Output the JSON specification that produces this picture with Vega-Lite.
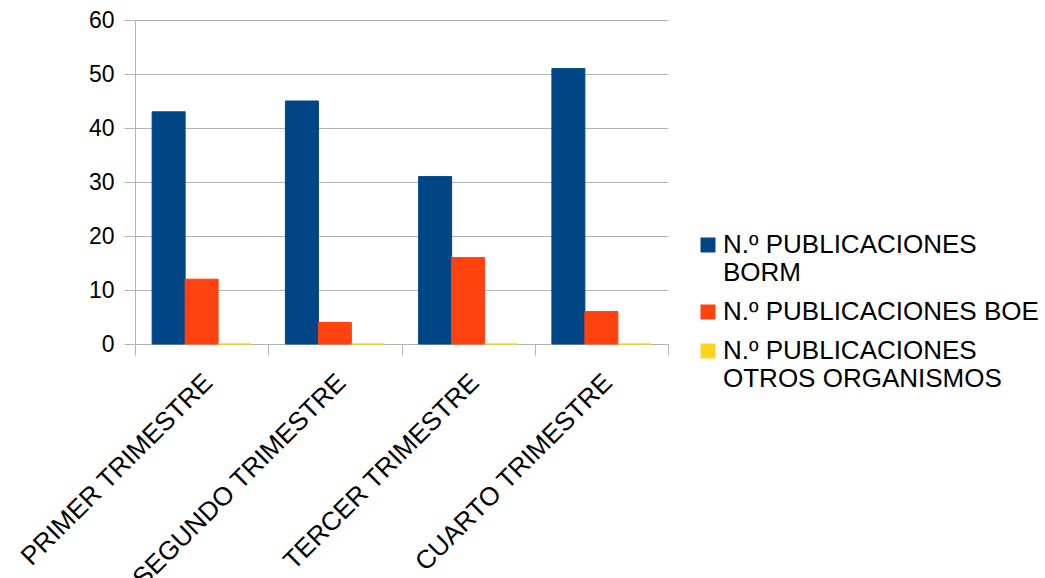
{
  "$schema": "https://vega.github.io/schema/vega-lite/v6.json",
  "width": 533,
  "height": 324,
  "autosize": {"type": "none"},
  "padding": {"left": 135, "top": 20, "right": 377, "bottom": 234},
  "background": "white",
  "config": {
    "font": "Liberation Sans",
    "view": {"stroke": null},
    "axis": {
      "domainColor": "#b3b3b3",
      "tickColor": "#b3b3b3",
      "gridColor": "#b3b3b3",
      "labelColor": "#000000",
      "labelFont": "Liberation Sans"
    }
  },
  "data": {
    "values": [
      {"trimestre": "PRIMER TRIMESTRE", "serie": "N.º PUBLICACIONES BORM", "n": 43},
      {"trimestre": "PRIMER TRIMESTRE", "serie": "N.º PUBLICACIONES BOE", "n": 12},
      {"trimestre": "PRIMER TRIMESTRE", "serie": "N.º PUBLICACIONES OTROS ORGANISMOS", "n": 0},
      {"trimestre": "SEGUNDO TRIMESTRE", "serie": "N.º PUBLICACIONES BORM", "n": 45},
      {"trimestre": "SEGUNDO TRIMESTRE", "serie": "N.º PUBLICACIONES BOE", "n": 4},
      {"trimestre": "SEGUNDO TRIMESTRE", "serie": "N.º PUBLICACIONES OTROS ORGANISMOS", "n": 0},
      {"trimestre": "TERCER TRIMESTRE", "serie": "N.º PUBLICACIONES BORM", "n": 31},
      {"trimestre": "TERCER TRIMESTRE", "serie": "N.º PUBLICACIONES BOE", "n": 16},
      {"trimestre": "TERCER TRIMESTRE", "serie": "N.º PUBLICACIONES OTROS ORGANISMOS", "n": 0},
      {"trimestre": "CUARTO TRIMESTRE", "serie": "N.º PUBLICACIONES BORM", "n": 51},
      {"trimestre": "CUARTO TRIMESTRE", "serie": "N.º PUBLICACIONES BOE", "n": 6},
      {"trimestre": "CUARTO TRIMESTRE", "serie": "N.º PUBLICACIONES OTROS ORGANISMOS", "n": 0}
    ]
  },
  "mark": {"type": "bar", "strokeWidth": 1},
  "encoding": {
    "x": {
      "field": "trimestre",
      "type": "nominal",
      "sort": null,
      "title": null,
      "scale": {"paddingInner": 0, "paddingOuter": 0},
      "axis": {
        "tickBand": "extent",
        "tickSize": 11,
        "labelAngle": -45,
        "labelAlign": "right",
        "labelBaseline": "top",
        "labelPadding": 14,
        "labelOffset": -3,
        "labelFontSize": 26,
        "labelLimit": 400
      }
    },
    "xOffset": {
      "field": "serie",
      "type": "nominal",
      "sort": null,
      "scale": {"paddingInner": 0, "paddingOuter": 0.52}
    },
    "y": {
      "field": "n",
      "type": "quantitative",
      "title": null,
      "scale": {"domain": [0, 60], "nice": false},
      "axis": {
        "values": [0, 10, 20, 30, 40, 50, 60],
        "grid": true,
        "tickSize": 11,
        "labelPadding": 10,
        "labelFontSize": 23,
        "domain": true
      }
    },
    "color": {
      "field": "serie",
      "type": "nominal",
      "sort": null,
      "title": null,
      "scale": {"range": ["#004586", "#ff420e", "#ffd320"]},
      "legend": {
        "orient": "none",
        "legendX": 560,
        "legendY": 212,
        "symbolType": "square",
        "symbolSize": 225,
        "symbolStrokeWidth": 0,
        "labelFontSize": 26,
        "labelColor": "#000000",
        "labelLimit": 400,
        "labelOffset": 2,
        "rowPadding": 13,
        "labelExpr": "datum.label === 'N.º PUBLICACIONES BOE' ? datum.label : ['N.º PUBLICACIONES', substring(datum.label, 18)]"
      }
    },
    "stroke": {
      "field": "serie",
      "type": "nominal",
      "sort": null,
      "title": null,
      "scale": {"range": ["#004586", "#ff420e", "#ffd320"]},
      "legend": null
    }
  }
}
